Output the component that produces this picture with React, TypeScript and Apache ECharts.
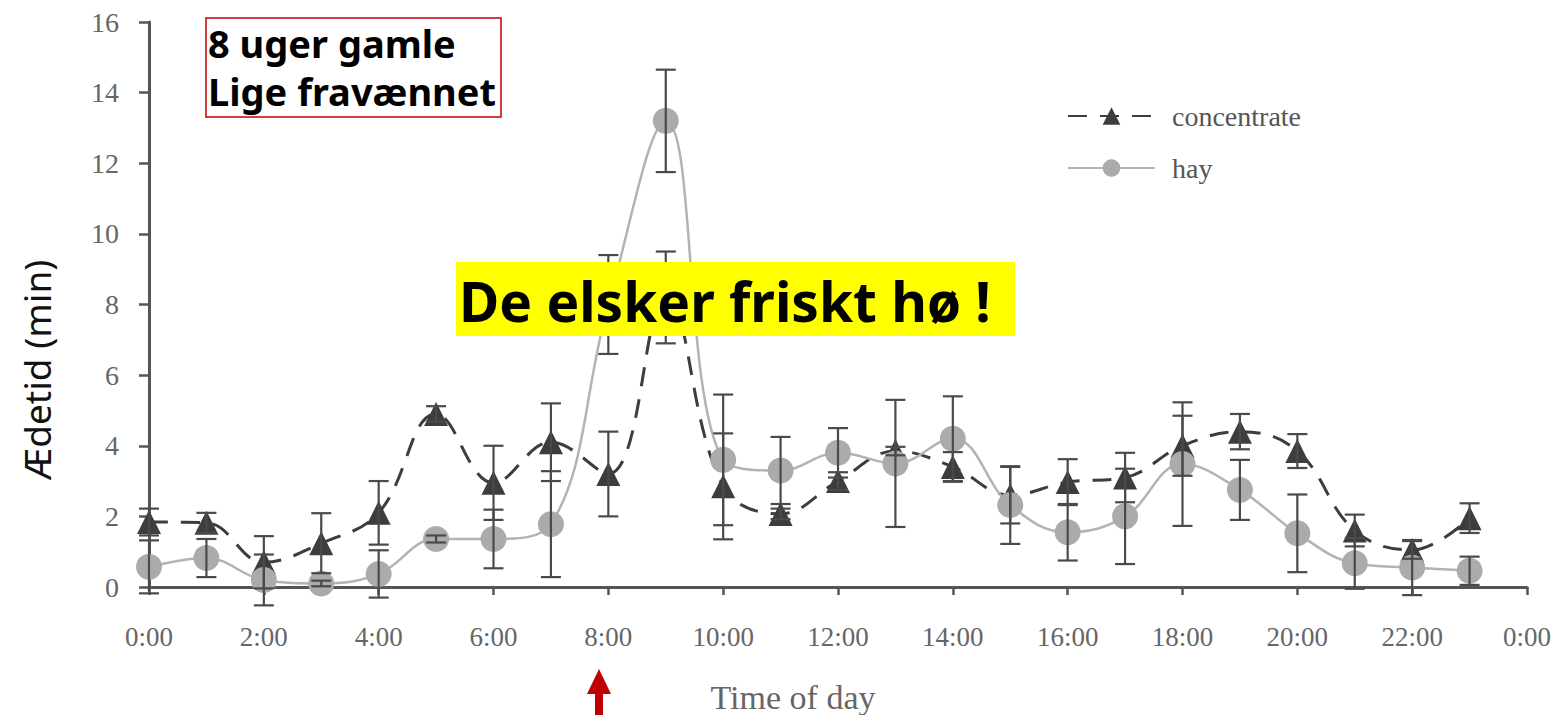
import React, { useEffect, useRef } from "react";
import * as echarts from "echarts";

const hours = [0, 1, 2, 3, 4, 5, 6, 7, 8, 9, 10, 11, 12, 13, 14, 15, 16, 17, 18, 19, 20, 21, 22, 23];
const concentrate = [1.84, 1.82, 0.7, 1.24, 2.1, 4.9, 2.95, 4.1, 3.2, 8.2, 2.85, 2.07, 3.0, 3.85, 3.4, 2.6, 2.97, 3.1, 4.0, 4.4, 3.85, 1.6, 1.05, 1.95];
const concentrateErr = [0.38, 0.28, 0.74, 0.85, 0.9, 0.22, 1.05, 1.1, 1.2, 1.3, 1.5, 0.15, 0.25, 0.12, 0.42, 0.8, 0.65, 0.7, 0.85, 0.5, 0.48, 0.45, 0.25, 0.42];
const hay = [0.57, 0.82, 0.2, 0.1, 0.37, 1.36, 1.36, 1.78, 8.0, 13.2, 3.6, 3.3, 3.8, 3.5, 4.2, 2.32, 1.55, 2.0, 3.48, 2.75, 1.52, 0.67, 0.55, 0.46];
const hayErr = [0.75, 0.54, 0.72, 0.08, 0.67, 0.1, 0.83, 1.5, 1.4, 1.45, 1.85, 0.95, 0.7, 1.8, 1.2, 1.1, 0.8, 1.35, 1.75, 0.85, 1.1, 0.72, 0.78, 0.4];
const xTickLabels = ["0:00", "2:00", "4:00", "6:00", "8:00", "10:00", "12:00", "14:00", "16:00", "18:00", "20:00", "22:00", "0:00"];
const yTickLabels = ["0", "2", "4", "6", "8", "10", "12", "14", "16"];

const SERIF = "'Liberation Serif', 'DejaVu Serif', serif";
const SANS = "'Noto Sans', 'Open Sans', sans-serif";

function errorSeries(name: string, values: number[], errs: number[], z: number) {
  return {
    name: name + "-err",
    type: "custom",
    z,
    silent: true,
    clip: false,
    data: hours.map((h, i) => [h, values[i] - errs[i], values[i] + errs[i]]),
    encode: { x: 0, y: [1, 2] },
    renderItem: (params: any, api: any) => {
      const x = api.value(0);
      const lo = api.coord([x, api.value(1)]);
      const hi = api.coord([x, api.value(2)]);
      const w = 10;
      const style = { stroke: "#4a4a4a", lineWidth: 2.2 };
      return {
        type: "group",
        children: [
          { type: "line", shape: { x1: lo[0], y1: lo[1], x2: hi[0], y2: hi[1] }, style },
          { type: "line", shape: { x1: hi[0] - w, y1: hi[1], x2: hi[0] + w, y2: hi[1] }, style },
          { type: "line", shape: { x1: lo[0] - w, y1: lo[1], x2: lo[0] + w, y2: lo[1] }, style },
        ],
      };
    },
  };
}

export default function App() {
  const ref = useRef<HTMLDivElement>(null);
  useEffect(() => {
    document.body.style.margin = "0";
    const chart = echarts.init(ref.current!, undefined, { renderer: "svg" });
    chart.setOption({
      animation: false,
      backgroundColor: "#ffffff",
      grid: { left: 149, right: 29, top: 22, bottom: 128 },
      xAxis: {
        type: "value",
        min: 0,
        max: 24,
        interval: 2,
        axisLine: { lineStyle: { color: "#555", width: 3 } },
        axisTick: { show: true, length: 8, lineStyle: { color: "#555", width: 2.5 } },
        axisLabel: {
          margin: 36,
          color: "#666",
          fontFamily: SERIF,
          fontSize: 27,
          formatter: (v: number) => xTickLabels[Math.round(v / 2)],
        },
        splitLine: { show: false },
      },
      yAxis: {
        type: "value",
        min: 0,
        max: 16,
        interval: 2,
        axisLine: { show: true, lineStyle: { color: "#555", width: 3 } },
        axisTick: { show: true, length: 10, lineStyle: { color: "#555", width: 2.5 } },
        axisLabel: {
          margin: 30,
          color: "#666",
          fontFamily: SERIF,
          fontSize: 28,
          formatter: (v: number) => yTickLabels[Math.round(v / 2)],
        },
        splitLine: { show: false },
      },
      legend: {
        orient: "vertical",
        left: 1062,
        top: 97,
        itemWidth: 87,
        itemHeight: 22,
        itemGap: 24,
        data: ["concentrate", "hay"],
        textStyle: { fontFamily: SERIF, fontSize: 28, color: "#555", padding: [0, 0, 0, 12] },
      },
      series: [
        {
          name: "concentrate",
          type: "line",
          data: hours.map((h, i) => [h, concentrate[i]]),
          smooth: 0.4,
          symbol: "triangle",
          symbolSize: 24,
          z: 3,
          lineStyle: { color: "#3d3d3d", width: 3, type: [19, 13] },
          itemStyle: { color: "#3d3d3d" },
        },
        {
          name: "hay",
          type: "line",
          data: hours.map((h, i) => [h, hay[i]]),
          smooth: 0.4,
          symbol: "circle",
          symbolSize: 26,
          z: 4,
          lineStyle: { color: "#b3b3b3", width: 2.5 },
          itemStyle: { color: "#ababab" },
        },
        errorSeries("concentrate", concentrate, concentrateErr, 5),
        errorSeries("hay", hay, hayErr, 5),
      ],
      graphic: [
        {
          type: "text",
          z: 100,
          x: 36,
          y: 370,
          rotation: Math.PI / 2,
          style: {
            text: "Ædetid (min)",
            fontFamily: SANS,
            fontSize: 37,
            fill: "#111",
            align: "center",
            verticalAlign: "middle",
          },
        },
        {
          type: "text",
          z: 100,
          x: 793,
          y: 697,
          style: {
            text: "Time of day",
            fontFamily: SERIF,
            fontSize: 34,
            fill: "#666",
            align: "center",
            verticalAlign: "middle",
          },
        },
        {
          type: "rect",
          z: 100,
          shape: { x: 206, y: 18, width: 295, height: 99 },
          style: { fill: "#ffffff", stroke: "#c00000", lineWidth: 1.5 },
        },
        {
          type: "text",
          z: 101,
          x: 208,
          y: 43,
          style: { text: "8 uger gamle", fontFamily: SANS, fontWeight: "bold", fontSize: 38, fill: "#000", verticalAlign: "middle" },
        },
        {
          type: "text",
          z: 101,
          x: 208,
          y: 91,
          style: { text: "Lige fravænnet", fontFamily: SANS, fontWeight: "bold", fontSize: 38, fill: "#000", verticalAlign: "middle" },
        },
        {
          type: "rect",
          z: 100,
          shape: { x: 456, y: 262, width: 559, height: 74 },
          style: { fill: "#ffff00" },
        },
        {
          type: "text",
          z: 101,
          x: 459,
          y: 300,
          style: { text: "De elsker friskt hø !", fontFamily: SANS, fontWeight: "bold", fontSize: 55, fill: "#000", verticalAlign: "middle" },
        },
        {
          type: "polygon",
          z: 100,
          shape: { points: [[587, 694], [599, 669], [611, 694]] },
          style: { fill: "#c00000" },
        },
        {
          type: "rect",
          z: 100,
          shape: { x: 595, y: 692, width: 8, height: 23 },
          style: { fill: "#c00000" },
        },
      ],
    });
    return () => chart.dispose();
  }, []);
  return <div ref={ref} style={{ position: "absolute", left: 0, top: 0, width: 1556, height: 715 }} />;
}
